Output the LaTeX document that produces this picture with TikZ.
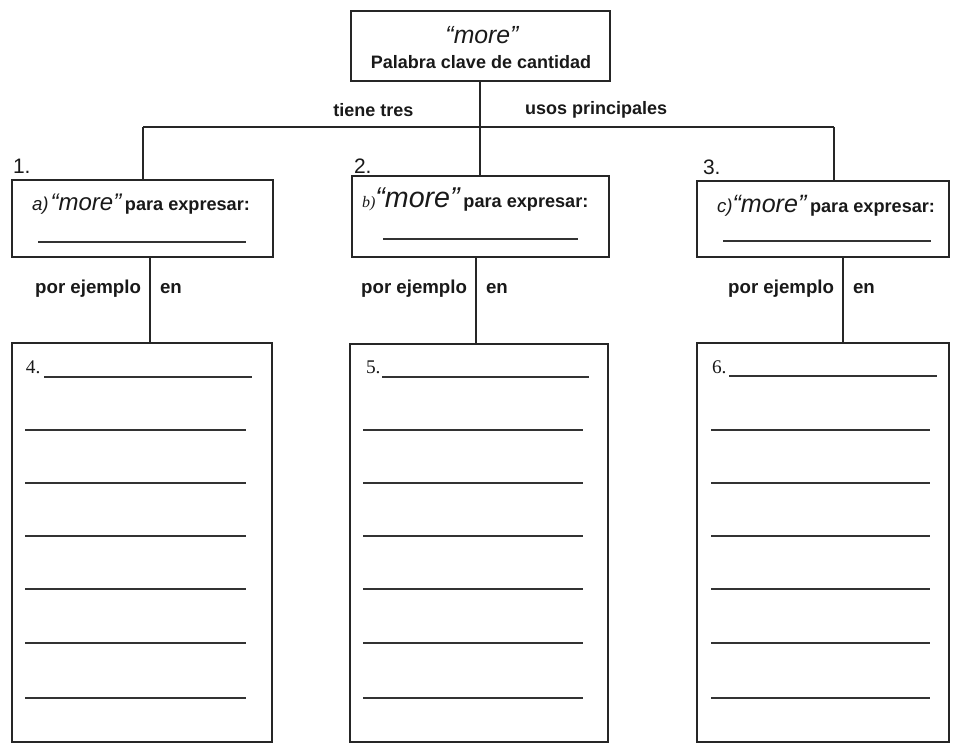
\documentclass[tikz,border=0pt]{standalone}
\usepackage{fontspec}
\setmainfont{Liberation Sans}
\newfontfamily\numserif{Liberation Serif}
\newcommand{\fs}[1]{\fontsize{#1}{#1}\selectfont}
\begin{document}
\begin{tikzpicture}[x=0.75pt,y=-0.75pt,
  frame/.style={draw=black!85, line width=1.6pt, rectangle, inner sep=0pt, outer sep=0pt},
  link/.style={draw=black!85, line width=1.3pt},
  blank/.style={draw=black!80, line width=1.3pt},
  lbl/.style={inner sep=0pt, outer sep=0pt, text=black!90},
  key/.style={lbl, font=\fs{13.5}\bfseries},
  num/.style={lbl, anchor=base west, font=\fs{15.7}},
  snum/.style={lbl, anchor=base west, font=\numserif\fs{14.5}}]
\useasboundingbox (0,0) rectangle (953,744);

% boxes
\node[frame, minimum width=259*0.75pt, minimum height=70*0.75pt] (top) at (480.5,46) {};
\node[frame, minimum width=261*0.75pt, minimum height=77*0.75pt] (b1) at (142.5,218.5) {};
\node[frame, minimum width=257*0.75pt, minimum height=81*0.75pt] (b2) at (480.5,216.5) {};
\node[frame, minimum width=252*0.75pt, minimum height=76*0.75pt] (b3) at (823,219) {};
\node[frame, minimum width=260*0.75pt, minimum height=399*0.75pt] (b4) at (142,542.5) {};
\node[frame, minimum width=258*0.75pt, minimum height=398*0.75pt] (b5) at (479,543) {};
\node[frame, minimum width=252*0.75pt, minimum height=399*0.75pt] (b6) at (823,542.5) {};

% branching connectors
\coordinate (jm) at (480,127);
\coordinate (jl) at (143,127);
\coordinate (jr) at (834,127);
\coordinate (d1) at (150,300);
\coordinate (d2) at (476,300);
\coordinate (d3) at (843,300);
\draw[link] (jm |- top.south) -- (jm |- b2.north);
\draw[link] (jl) -- (jr);
\draw[link] (jl) -- (jl |- b1.north);
\draw[link] (jr) -- (jr |- b3.north);
\draw[link] (d1 |- b1.south) -- (d1 |- b4.north);
\draw[link] (d2 |- b2.south) -- (d2 |- b5.north);
\draw[link] (d3 |- b3.south) -- (d3 |- b6.north);

% top box text
\node[lbl, font=\fs{18.6}\itshape] (t1) at (482,35) {“more”};
\node[lbl, font=\fs{13.5}\bfseries] (t2) at (481,62) {Palabra clave de cantidad};
\node[key, anchor=center] (t3) at (373.5,110) {tiene tres};
\node[key, anchor=west] (t4) at (525,110) {usos principales};

% numbers
\node[num] (n1) at (13,173) {1.};
\node[num] (n2) at (354,173) {2.};
\node[num] (n3) at (703,174) {3.};

% second-level box texts
\node[lbl, anchor=base west] (a1) at (32,210)
  {{\fs{14}\itshape a)\kern1.5pt}{\fs{18}\itshape “more”} {\fs{13.6}\bfseries para expresar:}};
\node[lbl, anchor=base west] (a2) at (362,207)
  {{\numserif\fs{12}\itshape b)}{\fs{21.5}\itshape “more”} {\fs{13.6}\bfseries para expresar:}};
\node[lbl, anchor=base west] (a3) at (717,212)
  {{\fs{14}\itshape c)}{\fs{18.8}\itshape “more”} {\fs{13.6}\bfseries para expresar:}};
\draw[blank] (38,242) -- (246,242);
\draw[blank] (383,239) -- (578,239);
\draw[blank] (723,241) -- (931,241);

% por ejemplo / en
\foreach \x/\n in {150/1,476/2,843/3}{
  \node[key, font=\fs{14}\bfseries, anchor=base east] (pe\n) at (\x-9,293) {por ejemplo};
  \node[key, font=\fs{14}\bfseries, anchor=base west] (en\n) at (\x+10,293) {en};
}

% answer boxes
\node[snum] (m4) at (26,373) {4.};
\node[snum] (m5) at (366,373) {5.};
\node[snum] (m6) at (712,373) {6.};
\draw[blank] (44,377) -- (252,377);
\draw[blank] (382,377) -- (589,377);
\draw[blank] (729,376) -- (937,376);
\foreach \y in {430,483,536,589,643,698}{
  \draw[blank] (25,\y) -- (246,\y);
  \draw[blank] (363,\y) -- (583,\y);
  \draw[blank] (711,\y) -- (930,\y);
}
\end{tikzpicture}
\end{document}
